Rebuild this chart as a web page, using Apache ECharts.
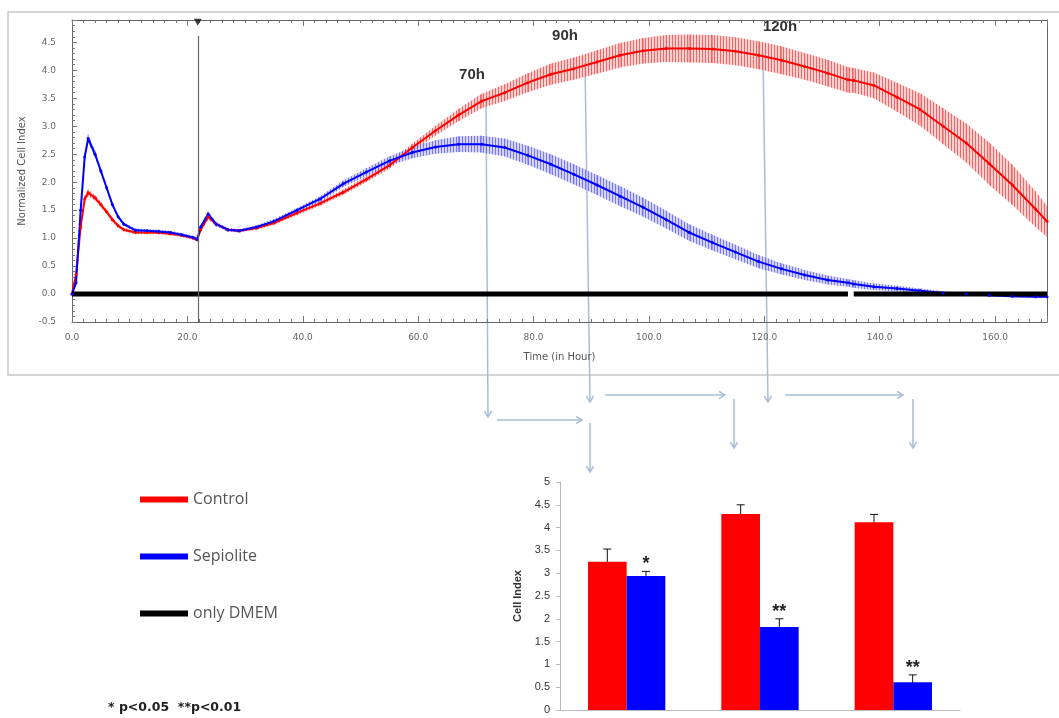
<!DOCTYPE html>
<html>
<head>
<meta charset="utf-8">
<title>Cell Index</title>
<script src="https://cdn.jsdelivr.net/npm/echarts@6/dist/echarts.min.js"></script>
<style>
  html, body { margin: 0; padding: 0; background: #fff; }
  #chart { width: 1059px; height: 718px; }
</style>
</head>
<body>
<div id="chart"></div>
<script>
const hours = [0, 0.7, 1.5, 2.2, 2.8, 4, 5, 6, 7, 8, 9, 11, 13, 15, 17, 19, 21, 21.7, 22.3, 23.6,
  25, 27, 29, 32, 35, 39, 43, 47, 51, 55, 59, 63, 67, 71, 75, 79, 83, 87, 91, 95,
  99, 103, 107, 111, 115, 119, 123, 127, 131, 134.5, 135.5, 139, 143, 147, 151, 155, 159, 163, 167, 169]
const control = [0.0, 0.35, 1.2, 1.7, 1.81, 1.72, 1.6, 1.47, 1.33, 1.22, 1.15, 1.1, 1.1, 1.1, 1.08, 1.05, 1.0, 0.97, 1.15, 1.38,
  1.25, 1.15, 1.13, 1.18, 1.27, 1.45, 1.62, 1.82, 2.05, 2.3, 2.62, 2.92, 3.2, 3.45, 3.6, 3.78, 3.93, 4.03, 4.15, 4.27,
  4.35, 4.39, 4.39, 4.38, 4.34, 4.27, 4.18, 4.07, 3.95, 3.83, 3.82, 3.73, 3.52, 3.3, 3.0, 2.7, 2.33, 1.95, 1.52, 1.3]
const controlErr = [0, 0.03, 0.05, 0.06, 0.06, 0.05, 0.05, 0.04, 0.04, 0.03, 0.03, 0.03, 0.03, 0.03, 0.03, 0.03, 0.03, 0.03, 0.04, 0.05,
  0.04, 0.03, 0.03, 0.03, 0.03, 0.04, 0.04, 0.05, 0.05, 0.06, 0.07, 0.09, 0.11, 0.13, 0.15, 0.17, 0.19, 0.2, 0.21, 0.22,
  0.23, 0.24, 0.25, 0.25, 0.25, 0.25, 0.25, 0.24, 0.24, 0.23, 0.22, 0.23, 0.26, 0.29, 0.32, 0.35, 0.38, 0.36, 0.32, 0.28]
const sepiolite = [0.0, 0.2, 1.5, 2.45, 2.78, 2.5, 2.2, 1.9, 1.6, 1.38, 1.25, 1.14, 1.13, 1.12, 1.1, 1.06, 1.01, 0.98, 1.2, 1.43,
  1.25, 1.15, 1.13, 1.2, 1.3, 1.5, 1.7, 1.97, 2.18, 2.38, 2.53, 2.63, 2.68, 2.68, 2.62, 2.48, 2.32, 2.14, 1.95, 1.75,
  1.55, 1.33, 1.1, 0.92, 0.75, 0.58, 0.45, 0.34, 0.25, 0.2, 0.18, 0.13, 0.1, 0.06, 0.02, 0.0, -0.02, -0.04, -0.05, -0.05]
const sepioliteErr = [0, 0.03, 0.05, 0.07, 0.08, 0.06, 0.05, 0.04, 0.04, 0.03, 0.03, 0.03, 0.03, 0.03, 0.03, 0.03, 0.03, 0.03, 0.04, 0.05,
  0.04, 0.03, 0.03, 0.03, 0.04, 0.04, 0.05, 0.06, 0.07, 0.08, 0.1, 0.12, 0.14, 0.15, 0.16, 0.17, 0.18, 0.18, 0.18, 0.18,
  0.17, 0.16, 0.15, 0.14, 0.13, 0.12, 0.1, 0.09, 0.08, 0.07, 0.07, 0.06, 0.05, 0.04, 0.03, 0.02, 0.02, 0.02, 0.02, 0.02]
const dmemHours = [0, 134.5, 135, 135.5, 169]
const dmem = [0, 0, null, 0, 0]
const eventHour = 21.8

// cell index at 70h / 90h / 120h
const barCategories = ['70h', '90h', '120h']
const barControl = [3.25, 4.3, 4.12]
const barControlErr = [0.28, 0.2, 0.17]
const barSepiolite = [2.94, 1.82, 0.61]
const barSepioliteErr = [0.1, 0.18, 0.16]
const barSig = ['*', '**', '**']

const chart = echarts.init(document.getElementById('chart'))
const arrowColor = '#a9bed6'
const topFont = 'DejaVu Sans, sans-serif'

// hatched fill for the error bands
function hatch (line, bg) {
  const c = document.createElement('canvas')
  c.width = 3
  c.height = 4
  const ctx = c.getContext('2d')
  ctx.fillStyle = bg
  ctx.fillRect(0, 0, 3, 4)
  ctx.fillStyle = line
  ctx.fillRect(0, 0, 1, 4)
  return { image: c, repeat: 'repeat' }
}

function bandData (values, errs) {
  return hours.map((t, i) => {
    const j = Math.min(i + 1, hours.length - 1)
    return [t, values[i] - errs[i], values[i] + errs[i], hours[j], values[j] - errs[j], values[j] + errs[j]]
  })
}

function bandItem (color, pattern) {
  return function (params, api) {
    const lo = api.coord([api.value(0), api.value(1)])
    const hi = api.coord([api.value(0), api.value(2)])
    const loNext = api.coord([api.value(3), api.value(4)])
    const hiNext = api.coord([api.value(3), api.value(5)])
    return {
      type: 'group',
      children: [
        { type: 'polygon', shape: { points: [hi, hiNext, loNext, lo] }, style: { fill: pattern } },
        { type: 'line', shape: { x1: lo[0], y1: lo[1], x2: hi[0], y2: hi[1] }, style: { stroke: color, lineWidth: 1 } }
      ]
    }
  }
}

function barErrItem (side, sig) {
  return function (params, api) {
    const idx = api.value(0)
    const band = api.size([1, 0])[0]
    const x = api.coord([idx, 0])[0] + side * band * 0.145
    const lo = api.coord([idx, api.value(1)])[1]
    const hi = api.coord([idx, api.value(2)])[1]
    const stroke = { stroke: '#111', lineWidth: 1 }
    const children = [
      { type: 'line', shape: { x1: x, y1: lo, x2: x, y2: hi }, style: stroke },
      { type: 'line', shape: { x1: x - 4, y1: hi, x2: x + 4, y2: hi }, style: stroke },
      { type: 'line', shape: { x1: x - 4, y1: lo, x2: x + 4, y2: lo }, style: stroke }
    ]
    if (sig) {
      children.push({
        type: 'text',
        style: { text: sig[params.dataIndex], x: x, y: hi - 7, align: 'center', verticalAlign: 'middle', fontSize: 18, fontWeight: 'bold', fill: '#222', fontFamily: 'Liberation Sans' }
      })
    }
    return { type: 'group', children }
  }
}

function arrow (x1, y1, x2, y2) {
  const ang = Math.atan2(y2 - y1, x2 - x1)
  const h = 7
  const w = 0.55
  return [
    { type: 'line', silent: true, shape: { x1, y1, x2, y2 }, style: { stroke: arrowColor, lineWidth: 1.5 } },
    {
      type: 'polyline',
      silent: true,
      shape: { points: [[x2 - h * Math.cos(ang - w), y2 - h * Math.sin(ang - w)], [x2, y2], [x2 - h * Math.cos(ang + w), y2 - h * Math.sin(ang + w)]] },
      style: { stroke: arrowColor, lineWidth: 1.5 }
    }
  ]
}

function hourLabel (text, x, y) {
  return { type: 'text', silent: true, x, y, style: { text, align: 'center', verticalAlign: 'middle', fontSize: 15, fontWeight: 'bold', fill: '#333', fontFamily: 'Liberation Sans' } }
}

const frameLine = { onZero: false, lineStyle: { color: '#666' } }
const tickStyle = { lineStyle: { color: '#777' } }

chart.setOption({
  animation: false,
  legend: {
    data: ['Control', 'Sepiolite', 'only DMEM'],
    orient: 'vertical',
    left: 140,
    top: 490,
    padding: 0,
    icon: 'rect',
    itemWidth: 48,
    itemHeight: 6,
    itemGap: 38,
    selectedMode: false,
    textStyle: { fontSize: 16, color: '#555', fontFamily: 'Open Sans', lineHeight: 19 }
  },
  grid: [
    { left: 72, right: 12, top: 20, bottom: 396 },
    { left: 560, width: 400, top: 482, bottom: 8 }
  ],
  xAxis: [
    {
      gridIndex: 0,
      type: 'value',
      min: 0,
      max: 169,
      interval: 20,
      name: 'Time (in Hour)',
      nameLocation: 'middle',
      nameGap: 30,
      nameTextStyle: { fontSize: 10, color: '#555', fontFamily: topFont },
      axisLine: frameLine,
      axisTick: { inside: true, length: 6, ...tickStyle },
      minorTick: { show: true, splitNumber: 10, length: 3, ...tickStyle },
      axisLabel: { fontSize: 9, color: '#666', margin: 11, fontFamily: topFont, showMaxLabel: false, formatter: v => v.toFixed(1) },
      splitLine: { show: false }
    },
    {
      gridIndex: 0,
      type: 'value',
      position: 'top',
      min: 0,
      max: 169,
      interval: 20,
      axisLine: frameLine,
      axisTick: { inside: true, length: 6, ...tickStyle },
      minorTick: { show: true, splitNumber: 10, length: 3, ...tickStyle },
      axisLabel: { show: false },
      splitLine: { show: false }
    },
    {
      gridIndex: 1,
      type: 'category',
      data: barCategories,
      axisLine: { lineStyle: { color: '#bbb' } },
      axisTick: { length: 4, lineStyle: { color: '#bbb' } },
      axisLabel: { show: false }
    }
  ],
  yAxis: [
    {
      gridIndex: 0,
      type: 'value',
      min: -0.5,
      max: 4.9,
      interval: 0.5,
      name: 'Normalized Cell Index',
      nameLocation: 'middle',
      nameGap: 42,
      nameTextStyle: { fontSize: 10, color: '#555', fontFamily: topFont },
      axisLine: { show: true, ...frameLine },
      axisTick: { inside: true, length: 5, ...tickStyle },
      minorTick: { show: true, splitNumber: 5, length: 3, ...tickStyle },
      axisLabel: { fontSize: 9, color: '#666', margin: 16, fontFamily: topFont, showMaxLabel: false, formatter: v => v.toFixed(1) },
      splitLine: { show: false }
    },
    {
      gridIndex: 0,
      type: 'value',
      position: 'right',
      min: -0.5,
      max: 4.9,
      axisLine: { show: true, ...frameLine },
      axisTick: { show: false },
      axisLabel: { show: false },
      splitLine: { show: false }
    },
    {
      gridIndex: 1,
      type: 'value',
      min: 0,
      max: 5,
      interval: 0.5,
      name: 'Cell Index',
      nameLocation: 'middle',
      nameGap: 37,
      nameTextStyle: { fontSize: 11, fontWeight: 'bold', color: '#333', fontFamily: 'Liberation Sans' },
      axisLine: { show: true, lineStyle: { color: '#bbb' } },
      axisTick: { show: true, length: 4, lineStyle: { color: '#bbb' } },
      axisLabel: { fontSize: 11, color: '#333', margin: 10, fontFamily: 'Liberation Sans' },
      splitLine: { show: false }
    }
  ],
  graphic: [
    { type: 'rect', silent: true, z: -10, shape: { x: 8, y: 12, width: 1056, height: 363 }, style: { fill: null, stroke: '#c8c8c8', lineWidth: 1.5 } },
    hourLabel('70h', 472, 75),
    hourLabel('90h', 565, 36),
    hourLabel('120h', 780, 27),
    ...arrow(486, 100, 488, 417),
    ...arrow(497, 420, 582, 420),
    ...arrow(590, 423, 590, 472),
    ...arrow(585, 63, 590, 402),
    ...arrow(605, 395, 725, 395),
    ...arrow(734, 399, 734, 448),
    ...arrow(763, 53, 768, 402),
    ...arrow(785, 395, 903, 395),
    ...arrow(913, 399, 913, 448),
    { type: 'text', silent: true, x: 108, y: 708, style: { text: '* p<0.05  **p<0.01', verticalAlign: 'middle', fontSize: 12.5, fontWeight: 'bold', fill: '#222', fontFamily: 'DejaVu Sans' } }
  ],
  series: [
    {
      name: 'controlBand',
      type: 'custom',
      xAxisIndex: 0,
      yAxisIndex: 0,
      clip: true,
      silent: true,
      renderItem: bandItem('rgba(232,70,70,0.6)', hatch('rgba(230,60,60,0.7)', 'rgba(255,170,170,0.55)')),
      data: bandData(control, controlErr)
    },
    {
      name: 'sepioliteBand',
      type: 'custom',
      xAxisIndex: 0,
      yAxisIndex: 0,
      clip: true,
      silent: true,
      renderItem: bandItem('rgba(80,80,235,0.55)', hatch('rgba(70,70,235,0.65)', 'rgba(170,170,255,0.5)')),
      data: bandData(sepiolite, sepioliteErr)
    },
    {
      name: 'Control',
      type: 'line',
      xAxisIndex: 0,
      yAxisIndex: 0,
      color: '#ff0000',
      symbol: 'circle',
      symbolSize: 3,
      lineStyle: { width: 2 },
      data: hours.map((t, i) => [t, control[i]])
    },
    {
      name: 'Sepiolite',
      type: 'line',
      xAxisIndex: 0,
      yAxisIndex: 0,
      color: '#0000ff',
      symbol: 'circle',
      symbolSize: 3,
      lineStyle: { width: 2 },
      data: hours.map((t, i) => [t, sepiolite[i]])
    },
    {
      name: 'only DMEM',
      type: 'line',
      xAxisIndex: 0,
      yAxisIndex: 0,
      color: '#000000',
      symbol: 'none',
      lineStyle: { width: 5 },
      data: dmemHours.map((t, i) => [t, dmem[i]]),
      markLine: {
        silent: true,
        symbol: ['none', 'none'],
        label: { show: false },
        lineStyle: { color: '#666', width: 1.2, type: 'solid' },
        data: [[{ coord: [eventHour, -0.5] }, { coord: [eventHour, 4.62] }]]
      }
    },
    {
      name: 'event',
      type: 'scatter',
      xAxisIndex: 0,
      yAxisIndex: 0,
      clip: false,
      symbol: 'triangle',
      symbolRotate: 180,
      symbolSize: [8, 7],
      itemStyle: { color: '#111' },
      data: [[eventHour, 4.86]]
    },
    {
      name: 'Control',
      type: 'bar',
      xAxisIndex: 2,
      yAxisIndex: 2,
      color: '#ff0000',
      barGap: '0%',
      barCategoryGap: '42%',
      data: barControl
    },
    {
      name: 'Sepiolite',
      type: 'bar',
      xAxisIndex: 2,
      yAxisIndex: 2,
      color: '#0000ff',
      barGap: '0%',
      barCategoryGap: '42%',
      data: barSepiolite
    },
    {
      name: 'controlErrBar',
      type: 'custom',
      xAxisIndex: 2,
      yAxisIndex: 2,
      silent: true,
      renderItem: barErrItem(-1),
      data: barControl.map((v, i) => [i, v - barControlErr[i], v + barControlErr[i]])
    },
    {
      name: 'sepioliteErrBar',
      type: 'custom',
      xAxisIndex: 2,
      yAxisIndex: 2,
      silent: true,
      renderItem: barErrItem(1, barSig),
      data: barSepiolite.map((v, i) => [i, v - barSepioliteErr[i], v + barSepioliteErr[i]])
    }
  ]
})
</script>
</body>
</html>
